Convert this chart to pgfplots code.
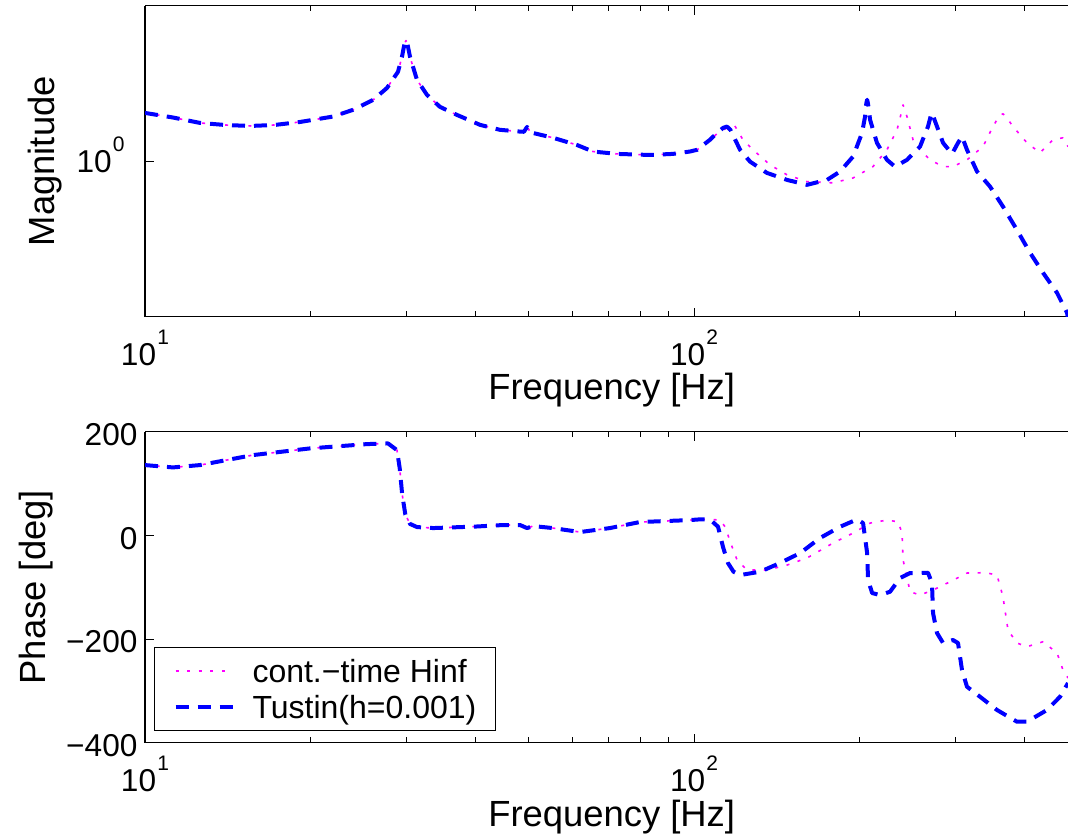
\documentclass[border=0pt]{standalone}
\usepackage{fontspec}
\setmainfont{Liberation Sans}
\usepackage{pgfplots}
\pgfplotsset{compat=1.18}

\definecolor{hinfmag}{rgb}{1,0,1}
\definecolor{tustblue}{rgb}{0,0,1}

% 10^k written in text font, the way the original tick labels look
\newcommand{\tenp}[1]{10\hspace{0.6pt}\raisebox{10.3pt}{\fontsize{10.5}{10.5}\selectfont #1}}

\pgfplotsset{
  hinf/.style={color=hinfmag, line width=0.8pt, line join=round, dash pattern=on 1.5pt off 4.3pt},
  tust/.style={color=tustblue, line width=2pt, line join=round, dash pattern=on 6.5pt off 4.5pt},
  /pgfplots/bode/.style={
    scale only axis, width=461.5pt, height=155.5pt,
    axis y line*=left,
    axis line style={line width=0.6pt},
    every tick/.style={black, line width=0.5pt},
    major tick length=4.5pt, minor tick length=2.7pt,
    xtick={10,100}, xticklabels={\tenp{1},\tenp{2}},
    minor xtick={20,30,40,50,60,70,80,90,200,300,400},
    tick label style={font=\fontsize{15.8}{15.8}\selectfont},
    xticklabel style={anchor=base, yshift=-24.3pt, inner sep=0pt},
    xlabel={Frequency [Hz]},
    xlabel style={at={(axis description cs:0.5056,0)}, anchor=base,
      yshift=-41.65pt, inner sep=0pt, font=\fontsize{18.2}{18.2}\selectfont},
    ylabel style={anchor=base, inner sep=0pt, font=\fontsize{18.2}{18.2}\selectfont},
  },
}

\begin{document}
\begin{tikzpicture}

% magnitude
\begin{axis}[bode, xmode=log, xmin=10, xmax=480,
  at={(72.5pt,261.15pt)}, anchor=south west,
  ymode=log, ymin=0.5, ymax=2,
  ytick={1}, yticklabels={\tenp{0}}, yminorticks=false,
  yticklabel style={anchor=base east, inner sep=0pt, xshift=-10pt, yshift=-5.66pt},
  ylabel={Magnitude},
  ylabel style={at={(axis description cs:-0.098,0.5)}},
]
\addplot[hinf] coordinates {
 (10,1.240) (11.24,1.215) (12.59,1.186) (14.0,1.175) (15.54,1.170) (17.2,1.175)
 (19.16,1.191) (22.0,1.220) (23.92,1.257) (26.03,1.314) (27.59,1.386) (28.89,1.489)
 (29.38,1.592) (29.7,1.690) (29.88,1.712) (30.05,1.690) (30.39,1.592) (31.29,1.437)
 (32.63,1.344) (34.45,1.274)
 (37.0,1.229) (40.75,1.176) (44.33,1.150) (48.2,1.141) (49.0,1.140) (49.65,1.165)
 (50.3,1.140) (50.9,1.134) (55.36,1.110) (61.2,1.075) (65.46,1.044) (72.4,1.033)
 (83.2,1.028) (91.5,1.033) (98.3,1.044) (101.3,1.052) (106.9,1.100)
 (110.1,1.130) (114.8,1.160) (118.7,1.170) (122.8,1.100) (128.1,1.052) (137.5,0.984)
 (147.7,0.941) (160.6,0.913) (179.2,0.908) (194.9,0.928) (211.8,0.976) (224.6,1.052)
 (234.3,1.150) (239.3,1.257) (240.3,1.285) (241.3,1.270) (244.3,1.220) (250.6,1.100)
 (258.0,1.052) (269.1,1.006) (284.2,0.976) (296.3,0.976) (314.2,1.006) (336.0,1.067)
 (350.4,1.167) (360,1.225) (365.4,1.235) (371,1.215) (381.1,1.167) (404.2,1.085)
 (426.8,1.038) (450.7,1.100) (470.0,1.110) (480,1.067)
};
\addplot[tust] coordinates {
 (10,1.240) (11.24,1.215) (12.59,1.186) (14.0,1.175) (15.54,1.170) (17.2,1.175)
 (19.16,1.191) (22.0,1.220) (23.92,1.257) (26.03,1.314) (27.59,1.386) (28.89,1.489)
 (29.38,1.592) (29.7,1.690) (29.88,1.712) (30.05,1.690) (30.39,1.592) (31.29,1.437)
 (32.63,1.344) (34.45,1.274)
 (37.0,1.229) (40.75,1.176) (44.33,1.150) (48.2,1.141) (49.0,1.140) (49.65,1.165)
 (50.3,1.140) (50.9,1.134) (55.36,1.110) (61.2,1.075) (65.46,1.044) (72.4,1.033)
 (83.2,1.028) (91.5,1.033) (98.3,1.044) (101.3,1.052) (106.9,1.100)
 (110.1,1.134) (113.0,1.160) (114.8,1.167) (116.5,1.150) (121.3,1.052) (126.5,0.998)
 (135.8,0.949) (147.7,0.920)
 (160.6,0.900) (174.7,0.920) (184.5,0.955) (194.9,1.021) (202.3,1.134) (204.9,1.220)
 (206.0,1.295) (206.7,1.315) (207.5,1.290) (209.3,1.202) (215.4,1.085) (224.6,1.006)
 (232.3,0.976) (244.3,1.006)
 (258.0,1.067) (266.8,1.167) (270.0,1.225) (271.3,1.240) (272.8,1.220) (277.1,1.167)
 (284.2,1.085) (295.1,1.033)
 (302.6,1.085) (307.7,1.116) (314.2,1.052) (327.7,0.955) (346.1,0.893) (365.4,0.817)
 (387.5,0.736) (409.3,0.665) (432.3,0.608) (458.4,0.556) (477.9,0.509) (480,0.497)
};
\end{axis}

% phase
\begin{axis}[bode, xmode=log, xmin=10, xmax=480,
  at={(72.5pt,48.15pt)}, anchor=south west,
  ymin=-400, ymax=200,
  ytick={-400,-200,0,200}, yticklabels={−400,−200,0,200},
  yticklabel style={anchor=base east, inner sep=0pt, xshift=-3.6pt, yshift=-6.9pt},
  ylabel={Phase [deg]},
  ylabel style={at={(axis description cs:-0.1083,0.5)}},
  legend style={at={(axis description cs:0,0)}, anchor=south west,
    xshift=4.5pt, yshift=5.85pt, draw=black, line width=0.5pt, fill=white,
    font=\fontsize{16}{16}\selectfont, inner xsep=9.5pt, inner ysep=2.5pt,
    column sep=9pt, row sep=0pt,
    nodes={inner sep=0pt, text height=14.65pt, text depth=3.5pt},
    cells={anchor=west}},
  legend image code/.code={\draw[#1] (0pt,0pt) -- (28.5pt,0pt);},
]
\addplot[hinf] coordinates {
 (10,135.6) (11.24,131.1) (12.59,135.6) (15.73,154.9) (19.98,167.8) (25.38,176.1)
 (27.71,177.4) (28.77,164.5) (29.1,130) (29.4,80) (29.8,40) (30.4,22) (31.3,16)
 (33.5,14.1) (40.0,17.0) (45.0,20.0) (48.2,20.0) (49.65,14.0) (50.9,18.0) (55.4,14.0)
 (62.0,6.4) (70.3,14.1) (79.7,25.7) (98.3,29.5) (102.5,30.9) (106.9,30.9)
 (111.5,29.5) (113.9,16.6) (117.3,-22.0) (119.8,-47.6) (124.9,-66.9) (135.8,-66.9)
 (147.7,-57.3) (160.6,-43.7) (179.2,-14.8) (194.9,4.4) (209.3,23.7) (224.6,29.5)
 (235.3,26.2) (239.3,4.4) (240.3,-47.6) (244.3,-79.8) (247.4,-108.8) (258.0,-115.1)
 (272.5,-105.5) (292.6,-89.5) (314.2,-72.7) (340,-72) (356.4,-76.6) (365.4,-118.4)
 (373.2,-182.6) (387.5,-207.7) (404.2,-214.8) (432.3,-205.2) (458.4,-227.0)
 (470.0,-259.8) (480,-275.2)
};
\addlegendentry{cont.−time Hinf}
\addplot[tust] coordinates {
 (10,135.6) (11.24,131.1) (12.59,135.6) (15.73,154.9) (19.98,167.8) (25.38,176.1)
 (27.71,177.4) (28.77,164.5) (29.1,130) (29.4,80) (29.8,40) (30.4,22) (31.3,16)
 (33.5,14.1) (40.0,17.0) (45.0,20.0) (48.2,20.0) (49.65,14.0) (50.9,18.0) (55.4,14.0)
 (62.0,6.4) (70.3,14.1) (79.7,25.7) (98.3,29.5) (102.5,30.9) (106.9,30.9)
 (110.6,16.6) (112.9,-22.0) (115.3,-53.4) (118.0,-70.0) (121.3,-76.6) (131.9,-70.2)
 (143.4,-53.4) (156.1,-34.1) (169.6,-5.2) (184.5,16.6) (198.2,30.9) (203.2,23.7)
 (206.7,-34.1) (207.5,-86.2) (211.1,-111.3) (218.2,-115.2) (227.5,-108.8) (237.3,-82.4)
 (247.4,-72.7) (258.0,-72.7) (266.8,-72.1) (271.3,-92.0) (272.5,-149.9)
 (277.1,-188.4) (284.2,-207.7) (296.3,-201.9) (302.6,-207.7) (307.7,-259.8)
 (314.2,-292.0) (331.8,-311.3) (356.4,-336.9) (387.5,-359.5) (404.2,-359.5)
 (439.5,-336.9) (464.2,-311.3) (480,-284.9)
};
\addlegendentry{Tustin(h=0.001)}
\end{axis}

\pgfresetboundingbox
\useasboundingbox (0,0) rectangle (534pt,419.5pt);
\end{tikzpicture}
\end{document}
